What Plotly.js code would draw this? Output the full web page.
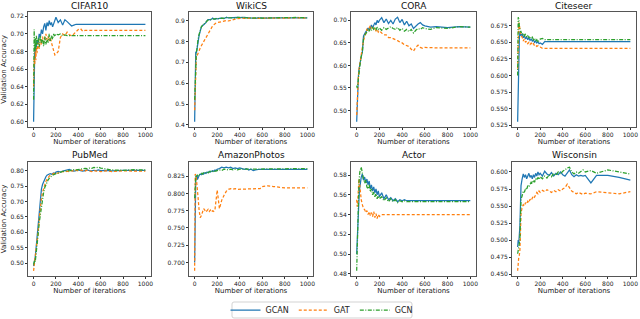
<!DOCTYPE html>
<html><head><meta charset="utf-8">
<script src="https://cdn.plot.ly/plotly-3.0.1.min.js"></script>
<style>html,body{margin:0;padding:0;background:#fff}#c{width:640px;height:319px}</style>
</head><body><div id="c"></div>
<script>
// ---------- data ----------
const iterations = [0,5,10,15,20,25,30,40,50,60,70,80,90,100,110,120,130,140,150,160,170,180,190,200,220,240,260,280,300,320,340,360,380,400,420,440,460,480,500,520,540,560,580,600,650,700,800,900,1000];
const datasetNames = ["CIFAR10","WikiCS","CORA","Citeseer","PubMed","AmazonPhotos","Actor","Wisconsin"];
const seriesNames = ["GCAN","GAT","GCN"];
const xTicks = [0,200,400,600,800,1000];

const cifarGCAN = [0.600,0.660,0.680,0.672,0.690,0.685,0.693,
 0.688,0.700,0.696,0.705,0.700,0.708,0.712,0.704,0.713,0.709,0.715,0.710,0.713,0.708,0.712,0.716,0.719,
 0.713,0.716,0.710,0.716,0.714,0.712,0.709,0.710,0.711,0.711,0.711,0.711,0.711,0.711,0.711,0.711,0.711,0.711,0.711,0.711,
 0.711,0.711,0.711,0.711,0.711];
const cifarGAT = [0.640,0.672,0.665,0.680,0.670,0.685,0.678,
 0.690,0.683,0.694,0.688,0.697,0.690,0.695,0.700,0.693,0.697,0.692,0.696,0.690,0.685,0.680,0.676,0.677,
 0.680,0.696,0.700,0.698,0.702,0.699,0.698,0.700,0.703,0.705,0.706,0.703,0.704,0.704,0.704,0.704,0.704,0.704,0.704,0.704,
 0.704,0.704,0.704,0.704,0.704];
const cifarGCN = [0.625,0.705,0.680,0.695,0.683,0.698,0.688,
 0.695,0.685,0.698,0.690,0.694,0.686,0.697,0.688,0.695,0.690,0.700,0.692,0.698,0.694,0.700,0.697,0.700,
 0.699,0.700,0.698,0.699,0.698,0.698,0.698,0.698,0.698,0.698,0.698,0.698,0.698,0.698,0.698,0.698,0.698,0.698,0.698,0.698,
 0.698,0.698,0.698,0.698,0.698];

const wikiGCAN = [0.415,0.600,0.750,0.745,0.760,0.780,0.800,
 0.830,0.850,0.870,0.875,0.880,0.885,0.890,0.900,0.905,0.905,0.903,0.907,0.912,0.908,0.906,0.910,0.908,
 0.910,0.912,0.910,0.915,0.913,0.914,0.912,0.913,0.915,0.914,0.916,0.915,0.914,0.913,0.912,0.913,0.911,0.913,0.912,0.913,
 0.912,0.913,0.912,0.914,0.913];
const wikiGAT = [0.470,0.580,0.700,0.720,0.730,0.735,0.740,
 0.755,0.770,0.780,0.790,0.800,0.810,0.820,0.830,0.840,0.850,0.860,0.870,0.875,0.880,0.885,0.888,0.890,
 0.893,0.895,0.897,0.900,0.898,0.902,0.905,0.907,0.909,0.911,0.912,0.910,0.911,0.912,0.910,0.911,0.912,0.911,0.910,0.911,
 0.912,0.911,0.912,0.913,0.912];
const wikiGCN = [0.520,0.650,0.740,0.750,0.760,0.790,0.810,
 0.835,0.860,0.870,0.878,0.880,0.887,0.893,0.900,0.903,0.904,0.905,0.906,0.906,0.907,0.908,0.908,0.910,
 0.909,0.912,0.911,0.915,0.914,0.913,0.914,0.912,0.915,0.916,0.915,0.914,0.915,0.913,0.912,0.913,0.912,0.914,0.913,0.912,
 0.913,0.912,0.913,0.915,0.913];

const coraGCAN = [0.475,0.530,0.555,0.575,0.590,0.600,0.605,
 0.620,0.630,0.665,0.670,0.675,0.680,0.683,0.678,0.685,0.690,0.683,0.688,0.695,0.690,0.700,0.695,0.700,
 0.706,0.695,0.703,0.693,0.700,0.692,0.703,0.707,0.695,0.702,0.690,0.698,0.688,0.692,0.682,0.688,0.692,0.695,0.690,0.688,
 0.685,0.686,0.684,0.686,0.685];
const coraGAT = [0.490,0.530,0.560,0.575,0.590,0.600,0.605,
 0.625,0.640,0.655,0.665,0.670,0.680,0.678,0.685,0.688,0.682,0.686,0.680,0.684,0.676,0.680,0.674,0.677,
 0.672,0.668,0.668,0.662,0.662,0.660,0.658,0.655,0.652,0.650,0.646,0.644,0.642,0.636,0.632,0.640,0.645,0.640,0.638,0.640,
 0.639,0.639,0.639,0.639,0.639];
const coraGCN = [0.555,0.550,0.560,0.575,0.590,0.600,0.603,
 0.620,0.628,0.660,0.668,0.670,0.675,0.680,0.676,0.682,0.678,0.685,0.680,0.683,0.678,0.685,0.680,0.683,
 0.678,0.684,0.680,0.684,0.686,0.682,0.680,0.684,0.678,0.682,0.676,0.680,0.675,0.680,0.672,0.678,0.682,0.680,0.684,0.682,
 0.680,0.684,0.682,0.686,0.685];

const citeGCAN = [0.530,0.590,0.625,0.655,0.666,0.662,0.660,
 0.663,0.657,0.660,0.655,0.658,0.654,0.657,0.653,0.655,0.652,0.654,0.650,0.652,0.649,0.651,0.648,0.649,
 0.647,0.651,0.651,0.651,0.651,0.651,0.651,0.651,0.651,0.651,0.651,0.651,0.651,0.651,0.651,0.651,0.651,0.651,0.651,0.651,
 0.651,0.651,0.651,0.651,0.651];
const citeGAT = [0.610,0.670,0.680,0.676,0.670,0.665,0.660,
 0.658,0.652,0.655,0.650,0.652,0.648,0.650,0.647,0.649,0.646,0.648,0.645,0.646,0.644,0.645,0.643,0.643,
 0.641,0.641,0.641,0.641,0.641,0.641,0.641,0.641,0.641,0.641,0.641,0.641,0.641,0.641,0.641,0.641,0.641,0.641,0.641,0.641,
 0.641,0.641,0.641,0.641,0.641];
const citeGCN = [0.600,0.688,0.686,0.675,0.668,0.665,0.666,
 0.662,0.664,0.660,0.662,0.658,0.660,0.657,0.659,0.656,0.658,0.654,0.656,0.652,0.654,0.650,0.653,0.655,
 0.656,0.654,0.654,0.654,0.654,0.654,0.654,0.654,0.654,0.654,0.654,0.654,0.654,0.654,0.654,0.654,0.654,0.654,0.654,0.654,
 0.654,0.654,0.654,0.654,0.654];

const pubGCAN = [0.490,0.500,0.505,0.520,0.540,0.560,0.580,
 0.620,0.680,0.710,0.740,0.755,0.765,0.775,0.780,0.785,0.788,0.789,0.790,0.788,0.790,0.792,0.790,0.795,
 0.797,0.795,0.798,0.800,0.802,0.804,0.800,0.798,0.800,0.802,0.800,0.798,0.800,0.802,0.800,0.799,0.801,0.800,0.802,0.800,
 0.801,0.799,0.801,0.800,0.801];
const pubGAT = [0.475,0.490,0.500,0.510,0.530,0.550,0.570,
 0.600,0.640,0.680,0.710,0.730,0.745,0.755,0.765,0.772,0.778,0.782,0.785,0.787,0.790,0.790,0.792,0.790,
 0.793,0.795,0.797,0.795,0.798,0.796,0.800,0.798,0.801,0.799,0.802,0.800,0.798,0.801,0.799,0.797,0.800,0.798,0.799,0.797,
 0.799,0.797,0.799,0.798,0.798];
const pubGCN = [0.495,0.500,0.510,0.505,0.520,0.535,0.550,
 0.590,0.630,0.660,0.690,0.710,0.730,0.745,0.755,0.763,0.770,0.775,0.780,0.782,0.785,0.787,0.790,0.790,
 0.792,0.795,0.797,0.798,0.800,0.799,0.801,0.803,0.802,0.804,0.805,0.806,0.807,0.806,0.808,0.807,0.810,0.809,0.811,0.808,
 0.805,0.802,0.801,0.803,0.802];

const amazonGCAN = [0.700,0.800,0.822,0.825,0.826,0.820,0.823,
 0.826,0.828,0.827,0.829,0.828,0.830,0.829,0.831,0.830,0.832,0.831,0.832,0.833,0.832,0.834,0.833,0.835,
 0.836,0.838,0.837,0.838,0.837,0.838,0.836,0.837,0.836,0.837,0.836,0.835,0.836,0.834,0.835,0.833,0.834,0.835,0.835,0.835,
 0.835,0.835,0.835,0.835,0.835];
const amazonGAT = [0.688,0.828,0.826,0.822,0.815,0.805,0.795,
 0.775,0.765,0.768,0.772,0.778,0.776,0.773,0.775,0.777,0.774,0.776,0.773,0.775,0.774,0.776,0.790,0.805,
 0.778,0.790,0.797,0.803,0.806,0.807,0.806,0.807,0.806,0.806,0.807,0.806,0.807,0.806,0.807,0.806,0.807,0.806,0.807,0.810,
 0.811,0.810,0.808,0.808,0.808];
const amazonGCN = [0.793,0.820,0.825,0.826,0.824,0.827,0.826,
 0.828,0.827,0.829,0.828,0.830,0.829,0.830,0.831,0.830,0.831,0.832,0.831,0.832,0.833,0.832,0.833,0.833,
 0.834,0.833,0.835,0.834,0.834,0.835,0.834,0.835,0.834,0.835,0.835,0.836,0.835,0.836,0.835,0.836,0.836,0.836,0.836,0.836,
 0.836,0.836,0.836,0.836,0.836];

const actorGCAN = [0.500,0.520,0.530,0.545,0.555,0.565,0.572,
 0.578,0.581,0.575,0.578,0.572,0.576,0.570,0.574,0.566,0.570,0.564,0.568,0.562,0.566,0.560,0.564,0.558,
 0.562,0.556,0.560,0.555,0.557,0.554,0.556,0.553,0.555,0.554,0.555,0.554,0.554,0.554,0.554,0.554,0.554,0.554,0.554,0.554,
 0.554,0.554,0.554,0.554,0.554];
const actorGAT = [0.555,0.548,0.555,0.568,0.576,0.572,0.565,
 0.555,0.550,0.546,0.545,0.542,0.544,0.540,0.543,0.539,0.542,0.538,0.543,0.537,0.541,0.536,0.540,0.538,
 0.540,0.540,0.540,0.540,0.540,0.540,0.540,0.540,0.540,0.540,0.540,0.540,0.540,0.540,0.540,0.540,0.540,0.540,0.540,0.540,
 0.540,0.540,0.540,0.540,0.540];
const actorGCN = [0.483,0.510,0.530,0.555,0.572,0.580,0.585,
 0.588,0.580,0.576,0.572,0.575,0.568,0.566,0.570,0.563,0.566,0.560,0.563,0.558,0.561,0.556,0.559,0.556,
 0.558,0.554,0.557,0.553,0.556,0.553,0.555,0.552,0.554,0.553,0.554,0.553,0.553,0.553,0.553,0.553,0.553,0.553,0.553,0.553,
 0.553,0.553,0.553,0.553,0.553];

const wiscGCAN = [0.490,0.500,0.495,0.505,0.520,0.550,0.580,
 0.590,0.597,0.592,0.596,0.590,0.595,0.598,0.592,0.595,0.590,0.596,0.592,0.598,0.594,0.600,0.596,0.598,
 0.594,0.601,0.597,0.595,0.599,0.594,0.598,0.596,0.600,0.596,0.594,0.598,0.603,0.596,0.593,0.596,0.594,0.595,0.594,0.595,
 0.584,0.595,0.595,0.592,0.588];
const wiscGAT = [0.455,0.470,0.475,0.478,0.485,0.510,0.540,
 0.548,0.552,0.550,0.555,0.553,0.557,0.555,0.560,0.558,0.562,0.565,0.563,0.567,0.570,0.568,0.572,0.570,
 0.573,0.571,0.574,0.572,0.570,0.573,0.571,0.574,0.572,0.575,0.577,0.582,0.576,0.572,0.570,0.568,0.570,0.569,0.567,0.569,
 0.568,0.571,0.570,0.568,0.571];
const wiscGCN = [0.480,0.485,0.490,0.495,0.500,0.530,0.560,
 0.565,0.572,0.570,0.576,0.574,0.580,0.578,0.582,0.585,0.583,0.588,0.585,0.590,0.588,0.592,0.589,0.593,
 0.590,0.594,0.591,0.596,0.593,0.598,0.595,0.600,0.597,0.601,0.603,0.606,0.607,0.600,0.597,0.600,0.598,0.601,0.603,0.600,
 0.602,0.598,0.603,0.600,0.597];

const allSeries = [
  [cifarGCAN, cifarGAT, cifarGCN],
  [wikiGCAN, wikiGAT, wikiGCN],
  [coraGCAN, coraGAT, coraGCN],
  [citeGCAN, citeGAT, citeGCN],
  [pubGCAN, pubGAT, pubGCN],
  [amazonGCAN, amazonGAT, amazonGCN],
  [actorGCAN, actorGAT, actorGCN],
  [wiscGCAN, wiscGAT, wiscGCN]
];
const yDtick = [0.02,0.1,0.05,0.025,0.05,0.025,0.02,0.025];
const yFormat = [".2f",".1f",".2f",".3f",".2f",".3f",".2f",".3f"];

// ---------- layout / style ----------
const W = 640, H = 319;
const colL = [28,189,351,512], colR = [151,313,476,636];
const rowT = [12,162], rowB = [127,276];
const titleY = [6, 155];
const colors = ["#1f77b4","#ff7f0e","#2ca02c"];
const dashes = ["solid","3px,2px","4px,1.5px,1px,1.5px"];
const FONT = "DejaVu Sans, sans-serif";
const px = v => v / W, py = v => 1 - v / H;

// legend frame (rounded box) in pixel terms
const lg = {l: 232, r: 412, t: 302, b: 318, rad: 2};
const legendPath =
  "M" + px(lg.l + lg.rad) + "," + py(lg.t) +
  " L" + px(lg.r - lg.rad) + "," + py(lg.t) +
  " Q" + px(lg.r) + "," + py(lg.t) + " " + px(lg.r) + "," + py(lg.t + lg.rad) +
  " L" + px(lg.r) + "," + py(lg.b - lg.rad) +
  " Q" + px(lg.r) + "," + py(lg.b) + " " + px(lg.r - lg.rad) + "," + py(lg.b) +
  " L" + px(lg.l + lg.rad) + "," + py(lg.b) +
  " Q" + px(lg.l) + "," + py(lg.b) + " " + px(lg.l) + "," + py(lg.b - lg.rad) +
  " L" + px(lg.l) + "," + py(lg.t + lg.rad) +
  " Q" + px(lg.l) + "," + py(lg.t) + " " + px(lg.l + lg.rad) + "," + py(lg.t) + " Z";

const traces = [];
const layout = {
  width: W, height: H,
  margin: {l:0, r:0, t:0, b:0, autoexpand: false},
  paper_bgcolor: "#fff", plot_bgcolor: "#fff",
  font: {family: FONT, size: 6, color: "#222"},
  showlegend: true,
  legend: {
    orientation: "h", x: px((lg.l + lg.r) / 2), xanchor: "center", y: py((lg.t + lg.b) / 2), yanchor: "middle",
    bordercolor: "rgba(0,0,0,0)", borderwidth: 0, bgcolor: "rgba(0,0,0,0)",
    font: {family: FONT, size: 8, color: "#222"},
    itemwidth: 30, tracegroupgap: 0
  },
  shapes: [{type: "path", xref: "paper", yref: "paper", path: legendPath,
            line: {color: "#d3d3d3", width: 1}, fillcolor: "#fff", layer: "below"}],
  annotations: []
};

for (let i = 0; i < 8; i++) {
  const col = i % 4, row = Math.floor(i / 4);
  const sfx = i === 0 ? "" : String(i + 1);
  const xd = [px(colL[col]), px(colR[col])];
  const yd = [py(rowB[row]), py(rowT[row])];
  let lo = Infinity, hi = -Infinity;
  allSeries[i].forEach(s => s.forEach(v => { lo = Math.min(lo, v); hi = Math.max(hi, v); }));
  const pad = (hi - lo) * 0.05;
  allSeries[i].forEach((s, k) => {
    traces.push({
      type: "scatter", mode: "lines", x: iterations, y: s,
      name: seriesNames[k], legendgroup: seriesNames[k], showlegend: i === 0,
      xaxis: "x" + sfx, yaxis: "y" + sfx,
      line: {color: colors[k], width: 1.25, dash: dashes[k]},
      hoverinfo: "skip"
    });
  });
  const axCommon = {
    automargin: false,
    showline: true, mirror: true, linecolor: "#555", linewidth: 1,
    showgrid: false, zeroline: false, ticks: "outside", ticklen: 2, tickwidth: 1, tickcolor: "#333",
    tickfont: {family: FONT, size: 6, color: "#222"}
  };
  layout["xaxis" + sfx] = Object.assign({}, axCommon, {
    domain: xd, anchor: "y" + sfx, range: [-50, 1050], tickvals: xTicks,
    title: {text: "Number of iterations", font: {family: FONT, size: 7, color: "#222"}, standoff: 0}
  });
  layout["yaxis" + sfx] = Object.assign({}, axCommon, {
    domain: yd, anchor: "x" + sfx, range: [lo - pad, hi + pad],
    dtick: yDtick[i], tick0: 0, tickformat: yFormat[i]
  });
  if (col === 0) {
    layout["yaxis" + sfx].title = {text: "Validation Accuracy", font: {family: FONT, size: 7, color: "#222"}, standoff: 4};
  }
  layout.annotations.push({
    text: datasetNames[i], xref: "paper", yref: "paper",
    x: (xd[0] + xd[1]) / 2, y: py(titleY[row]), xanchor: "center", yanchor: "middle",
    showarrow: false, font: {family: FONT, size: 9, color: "#111"}
  });
}

Plotly.newPlot("c", traces, layout, {staticPlot: true, displayModeBar: false});
</script></body></html>
